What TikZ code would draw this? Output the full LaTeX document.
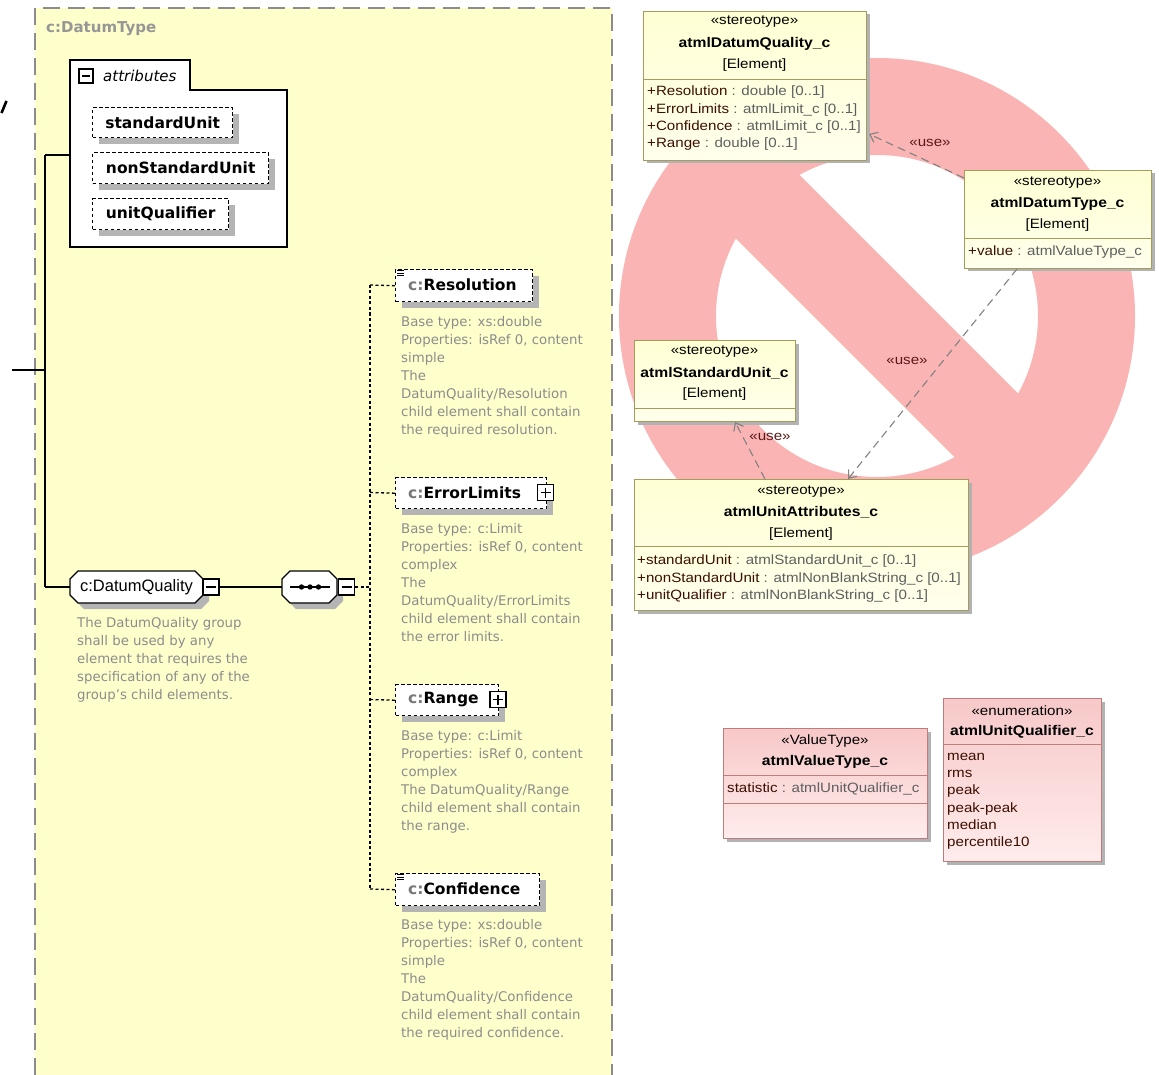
\documentclass[tikz,border=0pt]{standalone}
\usepackage{fontspec}
\setmainfont{DejaVu Sans}
\newfontfamily\xsdf{DejaVu Sans}
\newfontfamily\umlf[FakeStretch=1.12]{Liberation Sans}
\newfontfamily\lsf{Liberation Sans}
\usetikzlibrary{arrows.meta,shadows,calc}

\definecolor{panel}{RGB}{255,255,204}
\definecolor{panelborder}{RGB}{140,140,140}
\definecolor{desc}{RGB}{140,140,140}
\definecolor{titlegray}{RGB}{150,150,150}
\definecolor{cgray}{RGB}{120,120,120}
\definecolor{nored}{RGB}{250,180,180}
\definecolor{umlfill}{RGB}{255,255,212}
\definecolor{umlfilltwo}{RGB}{255,255,236}
\definecolor{umlborder}{RGB}{165,155,95}
\definecolor{pinkfill}{RGB}{247,200,200}
\definecolor{pinkfilltwo}{RGB}{255,236,236}
\definecolor{pinkborder}{RGB}{190,125,125}
\definecolor{attrname}{RGB}{60,15,0}
\definecolor{attrtype}{RGB}{95,95,95}
\definecolor{usecol}{RGB}{90,25,25}
\definecolor{shadowgray}{RGB}{180,180,180}
\definecolor{usegray}{RGB}{130,130,130}

\newcommand{\ufs}{\umlf\fontsize{13.5}{17.2}\selectfont}
\newcommand{\ubf}{\umlf\bfseries\fontsize{14}{17}\selectfont}
\newcommand{\xfs}{\xsdf\fontsize{13.3}{18}\selectfont}
\newcommand{\xbf}{\xsdf\bfseries\fontsize{15.5}{18}\selectfont}
\newcommand{\an}[1]{\textcolor{attrname}{#1}}
\newcommand{\at}[1]{\textcolor{attrtype}{#1}}
% chamfered outline: x1 y1 x2 y2 chamfer
\newcommand{\chamfpath}[5]{(#1+#5,#2) -- (#3-#5,#2) -- (#3,#2+#5) -- (#3,#4-#5) -- (#3-#5,#4) -- (#1+#5,#4) -- (#1,#4-#5) -- (#1,#2+#5) -- cycle}

\tikzset{
  solidcon/.style={line width=1.4pt, draw=black},
  dashcon/.style={line width=1.3pt, draw=black, dash pattern=on 3pt off 2.5pt},
  elbox/.style={draw=black, line width=1.4pt, dash pattern=on 3.5pt off 2.5pt, fill=white,
    inner sep=0pt, anchor=north west,
    general shadow={fill=shadowgray, shadow xshift=6pt, shadow yshift=-6pt}},
  eltext/.style={font=\xbf, anchor=west, inner sep=0pt},
  attrtext/.style={font=\xbf, inner sep=0pt},
  desctext/.style={font=\xfs, text=desc, align=left, anchor=north west, inner sep=0pt},
  grpanchor/.style={inner sep=0pt},
  grpshape/.style={draw=black, line width=1.3pt, fill=white},
  grpshadow/.style={fill=shadowgray},
  minusbox/.style={draw=black, line width=1.1pt, fill=white, minimum size=15pt, inner sep=0pt,
    path picture={\draw[line width=1.1pt] ([xshift=3pt]path picture bounding box.west) -- ([xshift=-3pt]path picture bounding box.east);}},
  plusbox/.style={draw=black, line width=1.1pt, fill=white, minimum size=16pt, inner sep=0pt,
    path picture={\draw[line width=1.1pt] ([xshift=3pt]path picture bounding box.west) -- ([xshift=-3pt]path picture bounding box.east)
      ([yshift=-3pt]path picture bounding box.north) -- ([yshift=3pt]path picture bounding box.south);}},
  umlbox/.style={draw=umlborder, line width=1pt, top color=umlfill, bottom color=umlfilltwo,
    inner sep=0pt, anchor=north west,
    general shadow={fill=black!30, shadow xshift=3pt, shadow yshift=-3pt}},
  pinkbox/.style={draw=pinkborder, line width=1pt, top color=pinkfill, bottom color=pinkfilltwo,
    inner sep=0pt, anchor=north west,
    general shadow={fill=black!30, shadow xshift=3pt, shadow yshift=-3pt}},
  stereo/.style={font=\ufs, inner sep=0pt},
  uname/.style={font=\ubf, inner sep=0pt},
  ulist/.style={font=\ufs, align=left, anchor=north west, inner sep=0pt},
  usedep/.style={draw=usegray, line width=1.1pt, dash pattern=on 8pt off 5pt,
    -{Straight Barb[length=7pt,width=11pt,line width=1.1pt]}},
  uselabel/.style={font=\ufs, text=usecol, inner sep=0pt}
}

\begin{document}
\begin{tikzpicture}[x=1pt,y=-1pt]
\useasboundingbox (0,0) rectangle (1159,1075);
\fill[white] (0,0) rectangle (1159,1075);

% ---------------- left panel ----------------
\fill[panel] (35,8) rectangle (612,1075);
\draw[panelborder, line width=1.5pt, dash pattern=on 17pt off 8pt] (35,1075) -- (35,8) -- (612,8) -- (612,1075);
\node[font=\xsdf\bfseries\fontsize{15}{18}\selectfont, text=titlegray, anchor=west, inner sep=0pt] (title) at (46,29) {c:DatumType};

% cut-off glyph at the left edge
\draw[line width=2.6pt] (1.5,113) -- (6.5,101);

% attributes container
\node[anchor=north west, minimum width=217pt, minimum height=187pt, inner sep=0pt] (attr) at (70,60) {};
\draw[line width=1.3pt, fill=white] (70,60) -- (190,60) -- (190,90) -- (287,90) -- (287,247) -- (70,247) -- cycle;
\node[minusbox, minimum size=14pt] (attrminus) at (86,76) {};
\node[font=\xsdf\itshape\fontsize{15}{18}\selectfont, anchor=west, inner sep=0pt] (attrlabel) at (103,76) {attributes};

\node[elbox, minimum width=140pt, minimum height=30pt] (su) at (92,107) {};
\node[attrtext] (sutext) at (su.center) {standardUnit};
\node[elbox, minimum width=176pt, minimum height=31pt] (nsu) at (92,152) {};
\node[attrtext] (nsutext) at (nsu.center) {nonStandardUnit};
\node[elbox, minimum width=136pt, minimum height=31pt] (uq) at (92,198) {};
\node[attrtext] (uqtext) at (uq.center) {unitQualifier};

% group DatumQuality
\coordinate (jtop) at (45,155);
\coordinate (jmid) at (45,370);
\coordinate (jext) at (12,370);
\coordinate (jbot) at (45,587);
\coordinate (attrin) at (70,155);
\fill[grpshadow] \chamfpath{76}{577}{209}{609}{8};
\draw[grpshape] \chamfpath{70}{571}{203}{603}{8};
\node[grpanchor, minimum width=133pt, minimum height=32pt] (dqual) at (136.5,587) {};
\node[font=\lsf\fontsize{16.5}{18}\selectfont, inner sep=0pt] (dqtext) at (136.5,587) {c:DatumQuality};
\node[minusbox, minimum size=16pt] (dqminus) at (211,587) {};

\draw[solidcon] (jtop) -- (jbot);
\draw[solidcon] (jtop) -- (attrin);
\draw[solidcon] (jext) -- (jmid);
\draw[solidcon] (jbot) -- (dqual.west);

\node[desctext] (dqdesc) at (77,617.5) {The DatumQuality group\\shall be used by any\\element that requires the\\specification of any of the\\group’s child elements.};

% sequence
\fill[grpshadow] \chamfpath{288}{577}{343}{609}{8};
\draw[grpshape] \chamfpath{282}{571}{337}{603}{8};
\node[grpanchor, minimum width=55pt, minimum height=32pt] (seq) at (309.5,587) {};
\draw[line width=1.3pt] (290,587) -- (330,587);
\fill (301.5,587) circle[radius=2.7pt] (310,587) circle[radius=2.7pt] (318.5,587) circle[radius=2.7pt];
\node[minusbox, minimum size=16pt] (seqminus) at (346.5,587) {};
\draw[solidcon] (dqminus.east) -- (seq.west);

\coordinate (choice) at (370,587);
\coordinate (vtop) at (370,285);
\coordinate (verr) at (370,492.5);
\coordinate (vrng) at (370,699.5);
\coordinate (vbot) at (370,889);
\draw[dashcon] (seqminus.east) -- (choice);
\draw[dashcon] (vtop) -- (vbot);

% elements
\node[elbox, minimum width=137pt, minimum height=32pt] (res) at (395,269) {};
\node[eltext] (restext) at (408,285) {\textcolor{cgray}{c:}Resolution};
\draw[line width=0.9pt] (397,270.5) -- (404,270.5) (397,273) -- (404,273) (397,275.5) -- (404,275.5);
\node[desctext] (resdesc) at (401,316.5) {Base type: xs:double\\Properties: isRef 0, content\\simple\\The\\DatumQuality/Resolution\\child element shall contain\\the required resolution.};

\node[elbox, minimum width=151pt, minimum height=31pt] (err) at (395,477) {};
\node[eltext] (errtext) at (408,492.5) {\textcolor{cgray}{c:}ErrorLimits};
\node[plusbox] (errplus) at (545.5,492.5) {};
\node[desctext] (errdesc) at (401,523.5) {Base type: c:Limit\\Properties: isRef 0, content\\complex\\The\\DatumQuality/ErrorLimits\\child element shall contain\\the error limits.};

\node[elbox, minimum width=103pt, minimum height=31pt] (rng) at (395,684) {};
\node[eltext] (rngtext) at (408,699.5) {\textcolor{cgray}{c:}Range};
\node[plusbox] (rngplus) at (498,699.5) {};
\node[desctext] (rngdesc) at (401,730.5) {Base type: c:Limit\\Properties: isRef 0, content\\complex\\The DatumQuality/Range\\child element shall contain\\the range.};

\node[elbox, minimum width=144pt, minimum height=32pt] (conf) at (395,873) {};
\node[eltext] (conftext) at (408,889) {\textcolor{cgray}{c:}Confidence};
\draw[line width=0.9pt] (397,874.5) -- (404,874.5) (397,877) -- (404,877) (397,879.5) -- (404,879.5);
\node[desctext] (confdesc) at (401,919.5) {Base type: xs:double\\Properties: isRef 0, content\\simple\\The\\DatumQuality/Confidence\\child element shall contain\\the required confidence.};

\draw[dashcon] (vtop) -- (res.west);
\draw[dashcon] (verr) -- (err.west);
\draw[dashcon] (vrng) -- (rng.west);
\draw[dashcon] (vbot) -- (conf.west);

% ---------------- prohibition sign ----------------
\fill[nored, even odd rule] (877,316) circle[radius=258pt] (877,316) circle[radius=161pt];
\begin{scope}
  \clip (877,316) circle[radius=170pt];
  \fill[nored] (986.6,489.2) -- (1050.2,425.6) -- (767.4,142.8) -- (703.8,206.4) -- cycle;
\end{scope}

% ---------------- UML boxes ----------------
% atmlDatumQuality_c
\node[umlbox, minimum width=223pt, minimum height=149pt] (dq) at (643,11) {};
\draw[umlborder, line width=1pt] (643,80) -- (866,80);
\node[stereo] (dqst) at (754.5,22) {«stereotype»};
\node[uname] (dqname) at (754.5,44) {atmlDatumQuality\_c};
\node[stereo] (dqel) at (754.5,65) {[Element]};
\node[ulist] (dqattr) at (647,86) {\an{+Resolution} \at{: double [0..1]}\\\an{+ErrorLimits} \at{: atmlLimit\_c [0..1]}\\\an{+Confidence} \at{: atmlLimit\_c [0..1]}\\\an{+Range} \at{: double [0..1]}};

% atmlDatumType_c
\node[umlbox, minimum width=187pt, minimum height=98pt] (dt) at (964,170) {};
\draw[umlborder, line width=1pt] (964,239) -- (1151,239);
\node[stereo] (dtst) at (1057.5,183) {«stereotype»};
\node[uname] (dtname) at (1057.5,204) {atmlDatumType\_c};
\node[stereo] (dtel) at (1057.5,225) {[Element]};
\node[ulist] (dtattr) at (968,246) {\an{+value} \at{: atmlValueType\_c}};

% atmlStandardUnit_c
\node[umlbox, minimum width=161pt, minimum height=81pt] (sun) at (634,340) {};
\draw[umlborder, line width=1pt] (634,408) -- (795,408);
\node[stereo] (sust) at (714.5,352) {«stereotype»};
\node[uname] (suname) at (714.5,373) {atmlStandardUnit\_c};
\node[stereo] (suel) at (714.5,394) {[Element]};

% atmlUnitAttributes_c
\node[umlbox, minimum width=334pt, minimum height=131pt] (ua) at (634,479) {};
\draw[umlborder, line width=1pt] (634,546) -- (968,546);
\node[stereo] (uast) at (801,492) {«stereotype»};
\node[uname] (uaname) at (801,512) {atmlUnitAttributes\_c};
\node[stereo] (uael) at (801,534) {[Element]};
\node[ulist] (uaattr) at (637,555) {\an{+standardUnit} \at{: atmlStandardUnit\_c [0..1]}\\\an{+nonStandardUnit} \at{: atmlNonBlankString\_c [0..1]}\\\an{+unitQualifier} \at{: atmlNonBlankString\_c [0..1]}};

% atmlValueType_c
\node[pinkbox, minimum width=204pt, minimum height=110pt] (vt) at (723,728) {};
\draw[pinkborder, line width=1pt] (723,775) -- (927,775);
\draw[pinkborder, line width=1pt] (723,803) -- (927,803);
\node[stereo] (vtst) at (825,741) {«ValueType»};
\node[uname] (vtname) at (825,762) {atmlValueType\_c};
\node[ulist] (vtattr) at (727,783) {\an{statistic} \at{: atmlUnitQualifier\_c}};

% atmlUnitQualifier_c
\node[pinkbox, minimum width=158pt, minimum height=163pt] (uqe) at (943,698) {};
\draw[pinkborder, line width=1pt] (943,744) -- (1101,744);
\node[stereo] (uqst) at (1022,711) {«enumeration»};
\node[uname] (uqname) at (1022,732) {atmlUnitQualifier\_c};
\node[ulist, text=attrname] (uqlist) at (947,753) {mean\\rms\\peak\\peak-peak\\median\\percentile10};

% ---------------- dependencies ----------------
\draw[usedep] ($(dt.north west)+(0,8)$) -- ($(dq.south east)+(2,-27)$);
\node[uselabel] (use1) at (930,143) {«use»};
\draw[usedep] ($(dt.south west)+(53,0)$) -- ($(ua.north west)+(214,0)$);
\node[uselabel] (use2) at (907,361) {«use»};
\draw[usedep] ($(ua.north west)+(131,0)$) -- ($(sun.south west)+(101,0)$);
\node[uselabel] (use3) at (770,437) {«use»};
\end{tikzpicture}
\end{document}
